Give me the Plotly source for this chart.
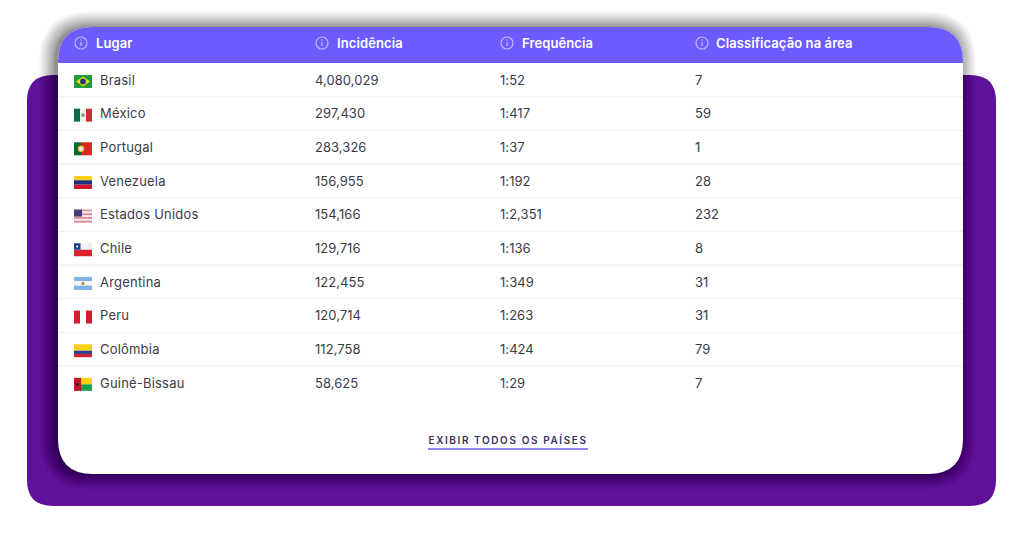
import plotly.graph_objects as go

# table content
places = ["Brasil", "México", "Portugal", "Venezuela", "Estados Unidos", "Chile",
          "Argentina", "Peru", "Colômbia", "Guiné-Bissau"]
incidence = ["4,080,029", "297,430", "283,326", "156,955", "154,166", "129,716",
             "122,455", "120,714", "112,758", "58,625"]
frequency = ["1:52", "1:417", "1:37", "1:192", "1:2,351", "1:136", "1:349", "1:263", "1:424", "1:29"]
rank = ["7", "59", "1", "28", "232", "8", "31", "31", "79", "7"]
headers = ["Lugar", "Incidência", "Frequência", "Classificação na área"]
footer = "EXIBIR TODOS OS PAÍSES"

# layout in pixels
header_x = [96, 337, 522, 716]
icon_x = [81, 322, 507, 702]
col_x = [100, 315, 500, 695]
row_y = [80 + 33.65 * i for i in range(len(places))]
text_y = [y + 1.5 for y in row_y]

PURPLE = "#60119a"
HEADER = "#6c5cfd"
TEXT = "#3b3b48"
FONT = "Inter, sans-serif"


def rrect(x0, y0, x1, y1, r, bottom=True):
    p = f"M{x0},{y0 + r} Q{x0},{y0} {x0 + r},{y0} L{x1 - r},{y0} Q{x1},{y0} {x1},{y0 + r} "
    if bottom:
        p += f"L{x1},{y1 - r} Q{x1},{y1} {x1 - r},{y1} L{x0 + r},{y1} Q{x0},{y1} {x0},{y1 - r} Z"
    else:
        p += f"L{x1},{y1} L{x0},{y1} Z"
    return p


shapes = []


def add_rect(x0, y0, x1, y1, color):
    shapes.append(dict(type="rect", x0=x0, y0=y0, x1=x1, y1=y1, fillcolor=color, line_width=0, layer="below"))


def add_dot(cx, cy, r, color):
    shapes.append(dict(type="circle", x0=cx - r, y0=cy - r, x1=cx + r, y1=cy + r, fillcolor=color,
                       line_width=0, layer="below"))


def hstripes(y, colors, weights=None):
    weights = weights or [1] * len(colors)
    top = y - 6.5
    for c, w in zip(colors, weights):
        h = 13 * w / sum(weights)
        add_rect(74, top, 92, top + h, c)
        top += h


def vstripes(y, colors):
    w = 18 / len(colors)
    for i, c in enumerate(colors):
        add_rect(74 + i * w, y - 6.5, 74 + (i + 1) * w, y + 6.5, c)


def flag(name, y):
    if name == "Brasil":
        hstripes(y, ["#1f9a3c"])
        shapes.append(dict(type="path", path=f"M76,{y} L83,{y - 5} L90,{y} L83,{y + 5} Z",
                           fillcolor="#f5d90a", line_width=0, layer="below"))
        add_dot(83, y, 2.9, "#1d3c78")
    elif name == "México":
        vstripes(y, ["#0d6b4a", "#f4f0ec", "#cf2b36"])
        add_dot(83, y, 1.8, "#a98a6a")
    elif name == "Portugal":
        add_rect(74, y - 6.5, 81, y + 6.5, "#0c6a2c")
        add_rect(81, y - 6.5, 92, y + 6.5, "#d9291c")
        add_dot(81, y, 3.2, "#e8c84a")
        add_dot(81, y, 1.7, "#f2f2f2")
    elif name == "Venezuela":
        hstripes(y, ["#f8d117", "#20307c", "#cf142b"])
    elif name == "Estados Unidos":
        hstripes(y, ["#d98a94", "#f7e6e8", "#d98a94", "#f7e6e8", "#d98a94", "#f7e6e8", "#d98a94"])
        add_rect(74, y - 6.5, 82, y + 0.5, "#3c3f78")
    elif name == "Chile":
        hstripes(y, ["#f1f1f4", "#d8232f"])
        add_rect(74, y - 6.5, 80.5, y, "#1c3f94")
        add_dot(77.2, y - 3.2, 1, "#ffffff")
    elif name == "Argentina":
        hstripes(y, ["#7fb2e0", "#f6f6f8", "#7fb2e0"])
        add_dot(83, y, 1.6, "#b8863a")
    elif name == "Peru":
        vstripes(y, ["#d91a2e", "#ffffff", "#d91a2e"])
    elif name == "Colômbia":
        hstripes(y, ["#fbd116", "#2a3f8f", "#ce1f36"], [2, 1, 1])
    elif name == "Guiné-Bissau":
        hstripes(y, ["#fbd116", "#1f9d4d"])
        add_rect(74, y - 6.5, 81, y + 6.5, "#ce1126")
        add_dot(77.5, y, 1.5, "#2a1a1a")


# purple backdrop
shapes.append(dict(type="path", path=rrect(27, 75, 996, 506, 26), fillcolor=PURPLE, line_width=0, layer="below"))

# soft card shadow built from stacked translucent outlines, denser next to the card
for i in range(26, 0, -1):
    g = 16 * (i / 26) ** 1.5
    shapes.append(dict(type="path", path=rrect(55 - g, 27 - g, 960 + g, 474 + g, 35 + g),
                       fillcolor="rgba(0,0,0,0.021)", line_width=0, layer="below"))

# card and header
shapes.append(dict(type="path", path=rrect(58, 27, 963, 474, 35), fillcolor="#ffffff", line_width=0, layer="below"))
shapes.append(dict(type="path", path=rrect(58, 27, 963, 63, 35, bottom=False), fillcolor=HEADER,
                   line_width=0, layer="below"))

# row separators
for y in row_y[:-1]:
    shapes.append(dict(type="line", x0=58, x1=963, y0=y + 16.8, y1=y + 16.8,
                       line=dict(color="#eeeef5", width=1), layer="below"))

# info icons
for x in icon_x:
    shapes.append(dict(type="circle", x0=x - 6, y0=37, x1=x + 6, y1=49, layer="below",
                       line=dict(color="rgba(255,255,255,0.55)", width=1.2), fillcolor="rgba(0,0,0,0)"))
    shapes.append(dict(type="line", x0=x, x1=x, y0=42, y1=46, layer="below",
                       line=dict(color="rgba(255,255,255,0.6)", width=1.2)))
    add_dot(x, 40, 0.7, "rgba(255,255,255,0.6)")

for name, y in zip(places, row_y):
    flag(name, y + 1.5)

# footer underline
shapes.append(dict(type="line", x0=428, x1=588, y0=449, y1=449, layer="below", line=dict(color=HEADER, width=1.6)))

fig = go.Figure()

fig.add_trace(go.Scatter(x=header_x, y=[44.5] * 4, text=headers, mode="text", textposition="middle right",
                         textfont=dict(family=FONT, size=13, color="#ffffff", weight=600), hoverinfo="skip"))
for x, col in zip(col_x, [places, incidence, frequency, rank]):
    fig.add_trace(go.Scatter(x=[x] * len(col), y=text_y, text=col, mode="text", textposition="middle right",
                             textfont=dict(family=FONT, size=13, color=TEXT), hoverinfo="skip"))
fig.add_trace(go.Scatter(x=[508], y=[441.5], text=[footer], mode="text", textposition="middle center",
                         textfont=dict(family=FONT, size=10, color="#3a2f5c", weight=600), hoverinfo="skip"))

fig.update_layout(
    width=1024, height=536, margin=dict(l=0, r=0, t=0, b=0),
    paper_bgcolor="#ffffff", plot_bgcolor="rgba(0,0,0,0)", showlegend=False,
    shapes=shapes,
    xaxis=dict(range=[0, 1024], visible=False, fixedrange=True),
    yaxis=dict(range=[536, 0], visible=False, fixedrange=True),
)

# plotly has no letter spacing option, so set it on the drawn text
fig.write_html("out.html", config=dict(displayModeBar=False),
               post_script="document.body.style.margin='0';"
                           "document.querySelectorAll('text').forEach(function(t){var s=t.textContent;"
                           "t.style.letterSpacing=s.indexOf('EXIBIR')===0?'1.6px':"
                           "/^[0-9]/.test(s)?'0.05px':t.style.fontWeight=='600'?'0.1px':'0.2px';});")
